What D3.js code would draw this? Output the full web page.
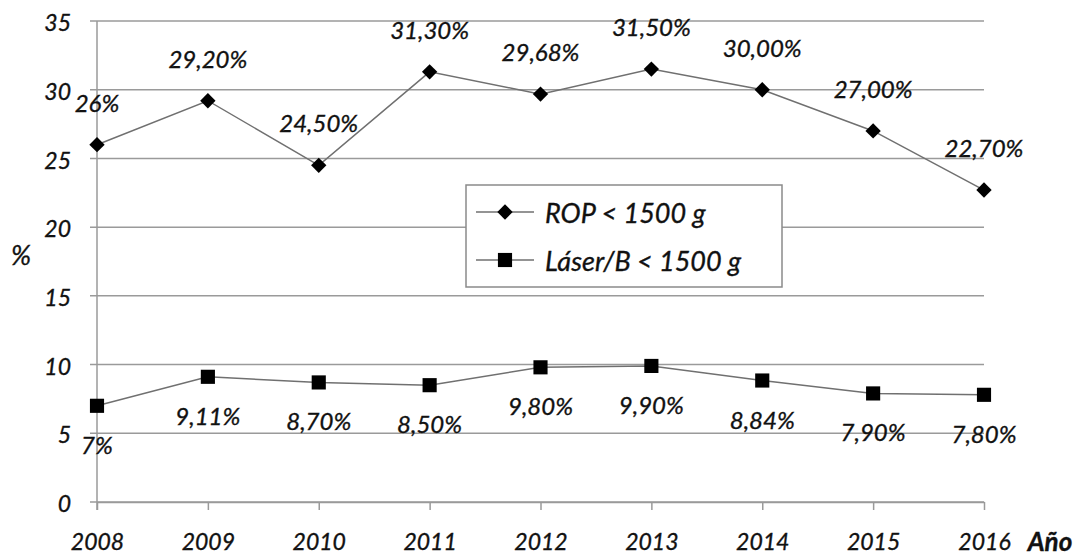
<!DOCTYPE html>
<html><head><meta charset="utf-8">
<script src="https://cdn.jsdelivr.net/npm/d3@7"></script>
<style>
body{margin:0;background:#fff;}
svg text{font-family:"Lato","Open Sans",sans-serif;font-style:italic;fill:#111;stroke:#111;stroke-width:0.35px;}
</style></head>
<body><svg id="c" width="1076" height="557"></svg>
<script>
const years = ["2008","2009","2010","2011","2012","2013","2014","2015","2016"];
const ropValues = [26, 29.2, 24.5, 31.3, 29.68, 31.5, 30, 27, 22.7];
const ropLabels = ["26%","29,20%","24,50%","31,30%","29,68%","31,50%","30,00%","27,00%","22,70%"];
const laserValues = [7, 9.11, 8.7, 8.5, 9.8, 9.9, 8.84, 7.9, 7.8];
const laserLabels = ["7%","9,11%","8,70%","8,50%","9,80%","9,90%","8,84%","7,90%","7,80%"];
const yTicks = [0,5,10,15,20,25,30,35];
const seriesNames = ["ROP < 1500 g","Láser/B < 1500 g"];

(function(){
const svg = d3.select("#c");
const pL = 97, pR = 984, pT = 21, pB = 502;
const x = d3.scalePoint().domain(years).range([pL, pR]);
const y = d3.scaleLinear().domain([0,35]).range([pB, pT]);

const gridColor = "#9a9a9a";
svg.append("g").selectAll("line").data(yTicks).join("line")
  .attr("x1", pL-7).attr("x2", pR)
  .attr("y1", d=>y(d)).attr("y2", d=>y(d))
  .attr("stroke", gridColor).attr("stroke-width", 1.5);
svg.append("line").attr("x1", pL).attr("x2", pL).attr("y1", pT).attr("y2", pB+8)
  .attr("stroke", gridColor).attr("stroke-width", 1.5);

const ya = svg.append("g").attr("transform", `translate(${pL},0)`)
  .call(d3.axisLeft(y).tickValues(yTicks).tickSize(0).tickPadding(26));
ya.select(".domain").remove();
ya.selectAll("text").attr("font-size", 23).attr("dy", "0.42em").style("font-family", "Lato").style("font-style","italic");

const xa = svg.append("g").attr("transform", `translate(0,${pB})`)
  .call(d3.axisBottom(x).tickSize(8).tickSizeOuter(0).tickPadding(24));
xa.select(".domain").attr("stroke", gridColor).attr("stroke-width", 1.5);
xa.selectAll("line").attr("stroke", gridColor).attr("stroke-width", 1.5);
xa.selectAll("text").attr("font-size", 23).style("font-family", "Lato").style("font-style","italic");

svg.append("text").attr("x", 21).attr("y", 265).attr("text-anchor","middle").attr("font-size", 27).text("%");
svg.append("text").attr("x", 1050).attr("y", 551).attr("text-anchor","middle").attr("font-size", 26)
  .attr("font-weight","bold").text("Año");

const line = d3.line().x((d,i)=>x(years[i])).y(d=>y(d));
const lineColor = "#707070";
const diamond = d3.symbol().type(d3.symbolDiamond2).size(150);
const square = d3.symbol().type(d3.symbolSquare).size(200);

svg.append("path").datum(ropValues).attr("d", line).attr("fill","none").attr("stroke", lineColor).attr("stroke-width", 1.5);
svg.append("path").datum(laserValues).attr("d", line).attr("fill","none").attr("stroke", lineColor).attr("stroke-width", 1.5);

svg.append("g").selectAll("path").data(ropValues).join("path")
  .attr("d", diamond).attr("transform", (d,i)=>`translate(${x(years[i])},${y(d)})`).attr("fill","#000");
svg.append("g").selectAll("path").data(laserValues).join("path")
  .attr("d", square).attr("transform", (d,i)=>`translate(${x(years[i])},${y(d)})`).attr("fill","#000");

svg.append("g").selectAll("text").data(ropValues).join("text")
  .attr("x", (d,i)=>x(years[i])).attr("y", d=>y(d)-33).attr("text-anchor","middle").attr("font-size", 24)
  .text((d,i)=>ropLabels[i]);
svg.append("g").selectAll("text").data(laserValues).join("text")
  .attr("x", (d,i)=>x(years[i])).attr("y", d=>y(d)+48).attr("text-anchor","middle").attr("font-size", 24)
  .text((d,i)=>laserLabels[i]);

const lg = svg.append("g");
lg.append("rect").attr("x", 466).attr("y", 185).attr("width", 316).attr("height", 102)
  .attr("fill","#fff").attr("stroke", "#8a8a8a").attr("stroke-width", 1.5);
const legY = [212, 260];
[0,1].forEach(i=>{
  lg.append("line").attr("x1", 476).attr("x2", 534).attr("y1", legY[i]).attr("y2", legY[i])
    .attr("stroke", lineColor).attr("stroke-width", 1.5);
  lg.append("path").attr("d", i===0?diamond:square).attr("transform", `translate(505,${legY[i]})`).attr("fill","#000");
  lg.append("text").attr("x", 545).attr("y", legY[i]+11).attr("font-size", 27).text(seriesNames[i]);
});
})();
</script></body></html>
